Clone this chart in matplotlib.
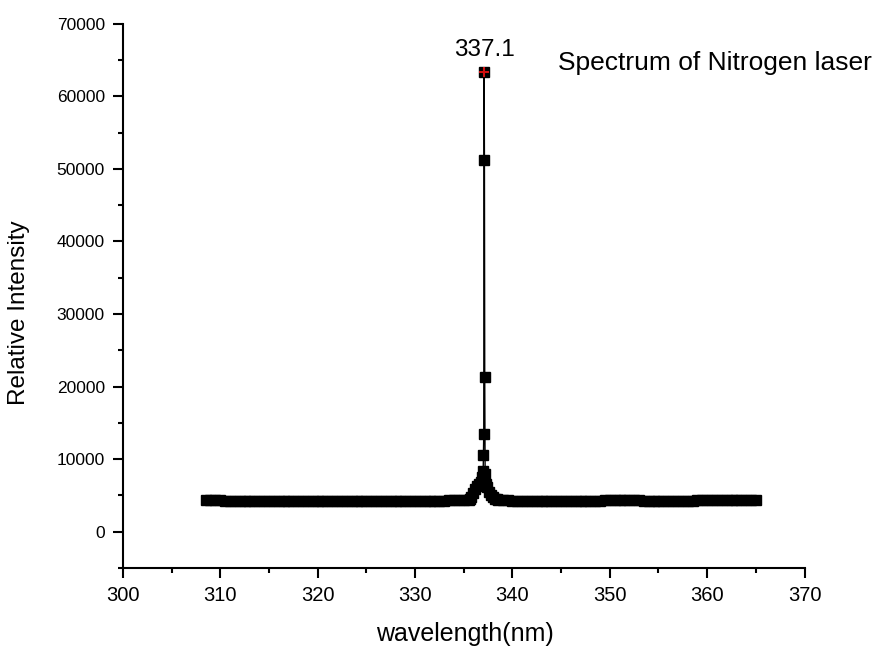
import matplotlib
matplotlib.use("Agg")
import matplotlib.pyplot as plt
from matplotlib.ticker import MultipleLocator

plt.rcParams["font.family"] = ["Liberation Sans", "DejaVu Sans"]

# Background readings below the N2 line (0.5 nm steps)
left_wl = [
    308.5, 309.0, 309.5, 310.0, 310.5, 311.0, 311.5, 312.0, 312.5, 313.0,
    313.5, 314.0, 314.5, 315.0, 315.5, 316.0, 316.5, 317.0, 317.5, 318.0,
    318.5, 319.0, 319.5, 320.0, 320.5, 321.0, 321.5, 322.0, 322.5, 323.0,
    323.5, 324.0, 324.5, 325.0, 325.5, 326.0, 326.5, 327.0, 327.5, 328.0,
    328.5, 329.0, 329.5, 330.0, 330.5, 331.0, 331.5, 332.0, 332.5, 333.0,
    333.5, 334.0, 334.5, 335.0, 335.5,
]
left_int = [
    4330, 4320, 4300, 4290, 4270, 4260, 4250, 4240, 4240, 4230,
    4230, 4220, 4220, 4210, 4210, 4200, 4200, 4200, 4190, 4190,
    4190, 4180, 4180, 4180, 4190, 4180, 4190, 4190, 4200, 4200,
    4200, 4210, 4210, 4200, 4210, 4220, 4220, 4230, 4230, 4240,
    4240, 4240, 4250, 4250, 4250, 4260, 4260, 4270, 4270, 4280,
    4290, 4300, 4320, 4350, 4400,
]

# Finely sampled region around the 337.1 nm line
peak_wl = [
    335.6, 335.8, 336.0, 336.2, 336.4, 336.6, 336.8, 336.9, 337.0, 337.03,
    337.06, 337.1, 337.13, 337.16, 337.2, 337.3, 337.4, 337.6, 337.8, 338.0,
    338.2, 338.4,
]
peak_int = [
    4500, 4800, 5300, 5900, 6300, 6600, 6900, 7500, 8300, 10500,
    13500, 63300, 51300, 21300, 8000, 6500, 6100, 5500, 5000, 4700,
    4550, 4450,
]

# Background readings above the line
right_wl = [
    338.5, 339.0, 339.5, 340.0, 340.5, 341.0, 341.5, 342.0, 342.5, 343.0,
    343.5, 344.0, 344.5, 345.0, 345.5, 346.0, 346.5, 347.0, 347.5, 348.0,
    348.5, 349.0, 349.5, 350.0, 350.5, 351.0, 351.5, 352.0, 352.5, 353.0,
    353.5, 354.0, 354.5, 355.0, 355.5, 356.0, 356.5, 357.0, 357.5, 358.0,
    358.5, 359.0, 359.5, 360.0, 360.5, 361.0, 361.5, 362.0, 362.5, 363.0,
    363.5, 364.0, 364.5, 365.0,
]
right_int = [
    4400, 4340, 4300, 4280, 4270, 4260, 4250, 4250, 4240, 4240,
    4230, 4230, 4230, 4220, 4220, 4220, 4230, 4240, 4250, 4260,
    4270, 4280, 4290, 4310, 4330, 4350, 4370, 4380, 4360, 4320,
    4280, 4250, 4240, 4230, 4230, 4240, 4240, 4250, 4260, 4270,
    4280, 4290, 4300, 4310, 4320, 4330, 4340, 4340, 4350, 4350,
    4360, 4360, 4370, 4370,
]

peak_pos = 337.1
peak_val = 63300

wavelength = left_wl + peak_wl + right_wl
intensity = left_int + peak_int + right_int

fig = plt.figure(figsize=(8.9, 6.46), dpi=100)
ax = fig.add_axes([0.138, 0.121, 0.766, 0.842])

ax.plot(wavelength, intensity, color="black", lw=1.0,
        marker="s", ms=7.2, mfc="black", mec="black")
# highlight the maximum
ax.plot([peak_pos], [peak_val], marker="+", ms=7, mew=1.5,
        color="#d01010", ls="none", zorder=5)
ax.annotate(f"{peak_pos:.1f}", (peak_pos, peak_val), xytext=(0, 12),
            textcoords="offset points", ha="center", va="baseline",
            fontsize=17.5)

ax.text(0.639, 0.915, "Spectrum of Nitrogen laser", transform=ax.transAxes,
        ha="left", va="baseline", fontsize=19)

ax.set_xlim(300, 370)
ax.set_ylim(-5000, 70000)
ax.xaxis.set_major_locator(MultipleLocator(10))
ax.xaxis.set_minor_locator(MultipleLocator(5))
ax.yaxis.set_minor_locator(MultipleLocator(5000))
ax.set_yticks(range(0, 70001, 10000))

for side in ("top", "right"):
    ax.spines[side].set_visible(False)
for side in ("left", "bottom"):
    ax.spines[side].set_linewidth(1.5)

ax.tick_params(which="major", direction="out", length=7, width=1.5, pad=6)
ax.tick_params(which="minor", direction="out", length=3.5, width=1.5)
ax.tick_params(axis="x", labelsize=14.5)
ax.tick_params(axis="y", labelsize=12.5)

ax.set_xlabel("wavelength(nm)", fontsize=18)
ax.set_ylabel("Relative Intensity", fontsize=17.5)
ax.xaxis.set_label_coords(0.502, -0.099)
ax.yaxis.set_label_coords(-0.136, 0.469)

fig.savefig("out.png", dpi=100)
